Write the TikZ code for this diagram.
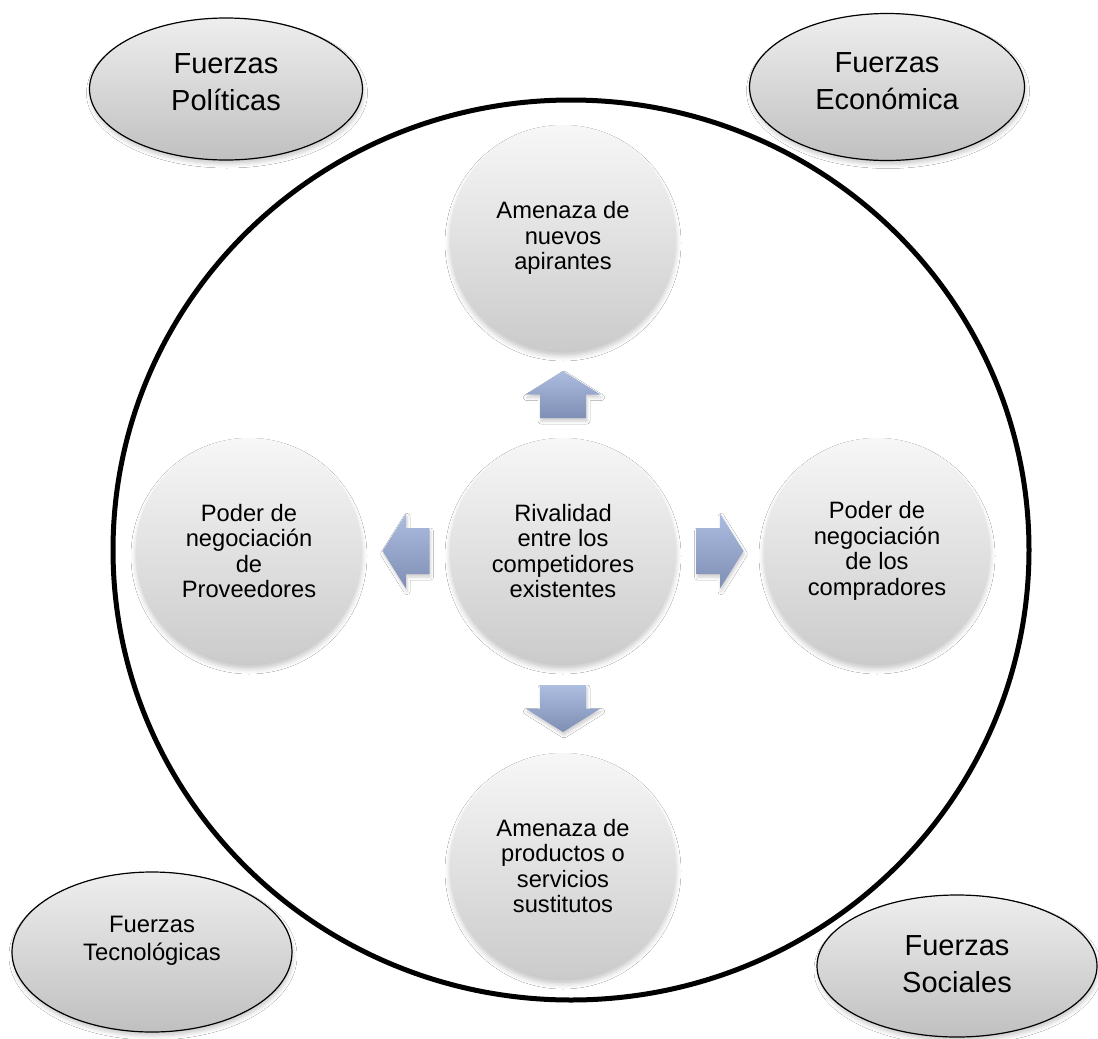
\documentclass[tikz,border=0pt]{standalone}
\usepackage{fontspec}
\setmainfont{Liberation Sans}
\usetikzlibrary{shapes.geometric,shadows.blur,calc}

\definecolor{ballTop}{RGB}{247,247,247}
\definecolor{ballBot}{RGB}{203,203,203}
\definecolor{ovalTop}{RGB}{238,238,238}
\definecolor{ovalBot}{RGB}{192,192,192}
\definecolor{arrTop}{RGB}{172,189,224}
\definecolor{arrBot}{RGB}{127,142,180}

\tikzset{
  force/.style={circle, inner sep=0pt, minimum size=226pt, align=center,
    top color=ballTop, bottom color=ballBot, draw=none,
    font=\fontsize{23.7}{25.5}\selectfont,
    blur shadow={shadow xshift=0pt, shadow yshift=-5pt, shadow blur radius=5pt, shadow opacity=22}},
  macro/.style={ellipse, inner sep=0pt, draw=black, line width=1.2pt,
    top color=ovalTop, bottom color=ovalBot,
    blur shadow={shadow xshift=1pt, shadow yshift=-4pt, shadow blur radius=4pt, shadow opacity=20}},
  macrotext/.style={align=center, inner sep=0pt, font=\fontsize{29}{37}\selectfont},
  smalltext/.style={align=center, inner sep=0pt, font=\fontsize{23.8}{28}\selectfont},
  blockarrow/.style={top color=arrTop, bottom color=arrBot, draw=none,
    blur shadow={shadow xshift=1pt, shadow yshift=-3pt, shadow blur radius=3pt, shadow opacity=20}}
}

\begin{document}
\begin{tikzpicture}[x=1pt, y=-1pt]
  \useasboundingbox[fill=white] (0,0) rectangle (1098,1039);

  % industry boundary
  \node[ellipse, draw=black, line width=5pt, minimum width=916pt, minimum height=900pt, inner sep=0pt] (ring) at (571,550) {};

  % the five forces
  \node[force] (ctr) at (563,551) {Rivalidad\\entre los\\competidores\\existentes};
  \node[force] (top) at (563,238) {Amenaza de\\nuevos\\apirantes};
  \node[force] (bot) at (563,866) {Amenaza de\\productos o\\servicios\\sustitutos};
  \node[force] (rgt) at (877,551) {Poder de\\negociación\\de los\\compradores};
  \node[force] (lft) at (249,551) {Poder de\\negociación\\de\\Proveedores};

  % block arrows between the centre and each force
  \coordinate (mU) at ($(ctr.north)!0.5!(top.south)$);
  \coordinate (mD) at ($(ctr.south)!0.5!(bot.north)$);
  \coordinate (mL) at ($(ctr.west)!0.5!(lft.east)$);
  \coordinate (mR) at ($(ctr.east)!0.5!(rgt.west)$);

  \shade[blockarrow] ($(mU)+(-23,23.5)$) -- ($(mU)+(-23,0)$) -- ($(mU)+(-37.5,0)$) -- ($(mU)+(0,-23.5)$)
     -- ($(mU)+(37.5,0)$) -- ($(mU)+(23,0)$) -- ($(mU)+(23,23.5)$) -- cycle;
  \shade[blockarrow] ($(mD)+(-23,-23.5)$) -- ($(mD)+(-23,0)$) -- ($(mD)+(-37.5,0)$) -- ($(mD)+(0,23.5)$)
     -- ($(mD)+(37.5,0)$) -- ($(mD)+(23,0)$) -- ($(mD)+(23,-23.5)$) -- cycle;
  \shade[blockarrow] ($(mL)+(23.5,-23)$) -- ($(mL)+(0,-23)$) -- ($(mL)+(0,-37.5)$) -- ($(mL)+(-23.5,0)$)
     -- ($(mL)+(0,37.5)$) -- ($(mL)+(0,23)$) -- ($(mL)+(23.5,23)$) -- cycle;
  \shade[blockarrow] ($(mR)+(-23.5,-23)$) -- ($(mR)+(0,-23)$) -- ($(mR)+(0,-37.5)$) -- ($(mR)+(23.5,0)$)
     -- ($(mR)+(0,37.5)$) -- ($(mR)+(0,23)$) -- ($(mR)+(-23.5,23)$) -- cycle;

  % macro-environment forces
  \node[macro, minimum width=273pt, minimum height=142pt] (pol) at (226,89) {};
  \node[macrotext] (polT) at ([yshift=7pt]pol.center) {Fuerzas\\Políticas};

  \node[macro, minimum width=275pt, minimum height=147pt] (eco) at (887,87) {};
  \node[macrotext] (ecoT) at ([yshift=6pt]eco.center) {Fuerzas\\Económica};

  \node[macro, minimum width=280pt, minimum height=160pt] (tec) at (152,952) {};
  \node[smalltext] (tecT) at ([yshift=11pt]tec.center) {Fuerzas\\Tecnológicas};

  \node[macro, minimum width=280pt, minimum height=142pt] (soc) at (957,966) {};
  \node[macrotext] (socT) at ([yshift=2pt]soc.center) {Fuerzas\\Sociales};
\end{tikzpicture}
\end{document}
